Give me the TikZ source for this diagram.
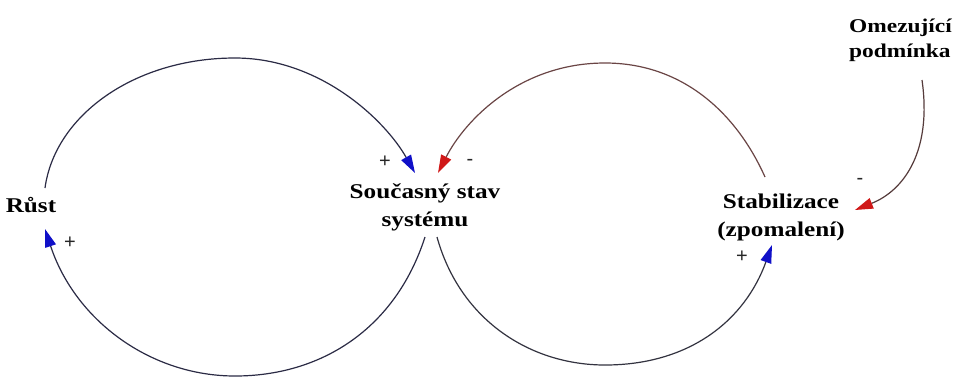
\documentclass[tikz,border=0pt]{standalone}
\usepackage{fontspec}
\setmainfont{Liberation Serif}
\newfontfamily\labfont[FakeStretch=1.2]{Liberation Serif}
\newfontfamily\signfont{Liberation Sans}
\usetikzlibrary{arrows.meta}
\definecolor{arrowblue}{RGB}{16,16,200}
\definecolor{arrowred}{RGB}{208,24,24}
\definecolor{navyline}{RGB}{43,43,69}
\definecolor{brownline}{RGB}{106,69,69}
\definecolor{darkline}{RGB}{51,51,64}
\definecolor{omezline}{RGB}{85,59,59}
\tikzset{
  lbl/.style={font=\labfont\bfseries\fontsize{21}{28}\selectfont, align=center, inner sep=0pt},
  sign/.style={font=\signfont\fontsize{20}{20}\selectfont, text=black!85, inner sep=0pt},
  link/.style={line width=1.2pt},
  bluetip/.style={-{Triangle[length=18pt,width=11pt,color=arrowblue]}},
  redtip/.style={-{Triangle[length=18pt,width=11pt,color=arrowred]}}
}
\begin{document}
\begin{tikzpicture}[x=1pt,y=-1pt]
\useasboundingbox[fill=white] (0,0) rectangle (958,376);
% labels
\node[lbl, anchor=base] (rust) at (31,212) {Růst};
\node[lbl] (stav) at (425,207) {Současný stav\\systému};
\node[lbl] (stab) at (781,217) {Stabilizace\\(zpomalení)};
\node[lbl, font=\labfont\bfseries\fontsize{19.5}{25}\selectfont, align=left, anchor=west] (omez) at (849,40) {Omezující\\podmínka};
% connector end points
\coordinate (rustOut) at (45,188);
\coordinate (rustIn) at (45,229);
\coordinate (stavInL) at (415,173);
\coordinate (stavInR) at (438,173);
\coordinate (stavOutL) at (425,237);
\coordinate (stavOutR) at (437,237);
\coordinate (stabOut) at (765,177);
\coordinate (stabIn) at (772,245);
\coordinate (stabInR) at (855,210);
\coordinate (omezOut) at (922,80);
% left loop
\draw[link, navyline, bluetip] (rustOut) .. controls (55,115) and (135,58) .. (235,58)
   .. controls (320,58) and (385,120) .. (stavInL);
\draw[link, navyline, bluetip] (stavOutL) .. controls (395,330) and (320,376) .. (235,376)
   .. controls (150,376) and (75,320) .. (rustIn);
% right loop
\draw[link, brownline, redtip] (stabOut) .. controls (735,110) and (680,63) .. (605,63)
   .. controls (520,63) and (465,120) .. (stavInR);
\draw[link, darkline, bluetip] (stavOutR) .. controls (460,320) and (530,365) .. (605,365)
   .. controls (690,365) and (745,320) .. (stabIn);
% limiting condition
\draw[link, omezline, redtip] (omezOut) .. controls (932,150) and (905,190) .. (stabInR);
% signs
\node[sign] (s1) at (385,162) {+};
\node[sign] (s2) at (470,162) {-};
\node[sign] (s3) at (70,243) {+};
\node[sign] (s4) at (742,257) {+};
\node[sign] (s5) at (860,181) {-};
\end{tikzpicture}
\end{document}
